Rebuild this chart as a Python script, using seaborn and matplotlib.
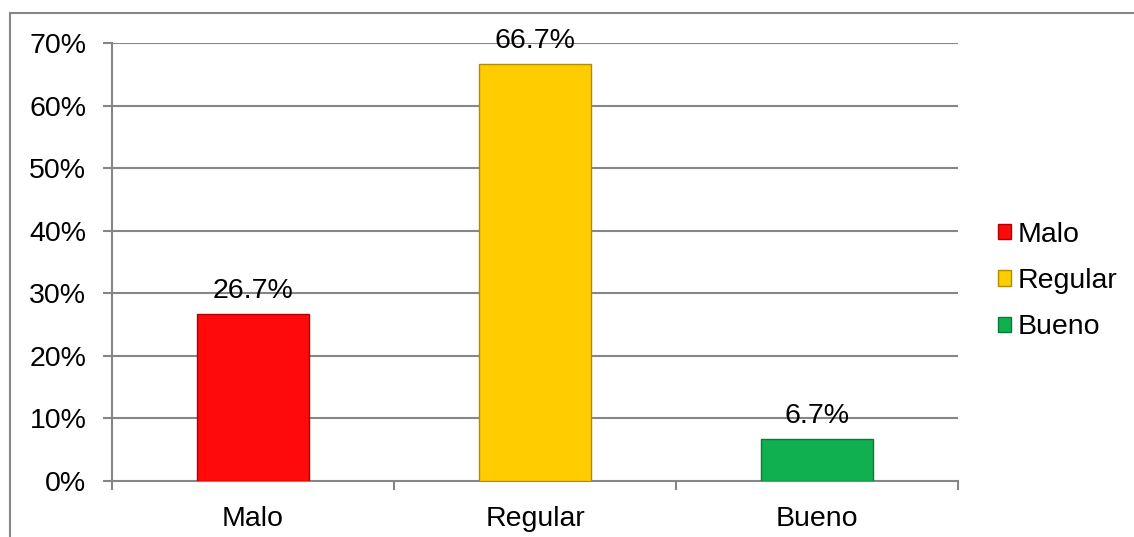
import matplotlib
matplotlib.use("Agg")
import matplotlib.pyplot as plt
import matplotlib.patches as mpatches
import seaborn as sns
import pandas as pd

# Data
categories = ["Malo", "Regular", "Bueno"]
values = [0.267, 0.667, 0.067]
value_labels = ["26.7%", "66.7%", "6.7%"]
colors = ["#FE0A0A", "#FFCC00", "#10B050"]
edge_colors = ["#B00000", "#B08C00", "#0A7A38"]
y_ticks = [0.0, 0.1, 0.2, 0.3, 0.4, 0.5, 0.6, 0.7]
y_tick_labels = ["0%", "10%", "20%", "30%", "40%", "50%", "60%", "70%"]

sns.set_theme(style="white")
plt.rcParams["font.family"] = ["Liberation Sans", "DejaVu Sans"]

GRAY = "#868686"
FS = 20.5

fig = plt.figure(figsize=(11.34, 5.37), dpi=100)
ax = fig.add_axes([112 / 1134, 1 - 481 / 537, (958 - 112) / 1134, (481 - 43) / 537])

df = pd.DataFrame({"cat": categories, "val": values})
sns.barplot(data=df, x="cat", y="val", hue="cat", palette=colors,
            width=0.4, dodge=False, legend=False, ax=ax, zorder=3,
            saturation=1)

for patch, ec in zip(ax.patches, edge_colors):
    patch.set_edgecolor(ec)
    patch.set_linewidth(1.0)

ax.set_ylim(0, 0.7)
ax.set_xlim(-0.5, 2.5)
ax.set_yticks(y_ticks)
ax.set_yticklabels(y_tick_labels, fontsize=FS, color="black")
ax.set_xticks(range(len(categories)))
ax.set_xticklabels(categories, fontsize=FS, color="black")
ax.set_xlabel("")
ax.set_ylabel("")

# Gridlines
for y in y_ticks[1:]:
    ax.axhline(y, color=GRAY, lw=1.5, zorder=1)

# Spines
for s in ["top", "right"]:
    ax.spines[s].set_visible(False)
for s in ["left", "bottom"]:
    ax.spines[s].set_color(GRAY)
    ax.spines[s].set_linewidth(1.5)

# Ticks: y outward, x at category boundaries
ax.tick_params(axis="y", which="major", direction="out", length=6.5, width=1.5,
               color=GRAY, pad=12, left=True)
ax.tick_params(axis="x", which="major", length=0, pad=18)
ax.set_xticks([-0.5, 0.5, 1.5, 2.5], minor=True)
ax.tick_params(axis="x", which="minor", direction="out", length=6.5, width=1.5,
               color=GRAY, bottom=True)

# Value labels
for i, (v, lab) in enumerate(zip(values, value_labels)):
    ax.annotate(lab, xy=(i, v), xytext=(0, 7), textcoords="offset points",
                ha="center", va="bottom", fontsize=FS, color="black", zorder=5)

# Legend
handles = [mpatches.Patch(facecolor=c, edgecolor=e, linewidth=1.0, label=n)
           for n, c, e in zip(categories, colors, edge_colors)]
fig.legend(handles=handles, loc="center left",
           bbox_to_anchor=(998 / 1134, 1 - 281 / 537),
           frameon=False, fontsize=FS, handlelength=0.45, handleheight=0.45,
           handletextpad=0.25, labelspacing=0.72, borderaxespad=0,
           borderpad=0, labelcolor="black")

# Outer chart frame
fig.patches.append(mpatches.Rectangle((10 / 1134, -0.1), 1.2, 1 - 13 / 537 + 0.1,
                                      transform=fig.transFigure, fill=False,
                                      edgecolor=GRAY, linewidth=1.5))

fig.savefig("out.png", dpi=100)
